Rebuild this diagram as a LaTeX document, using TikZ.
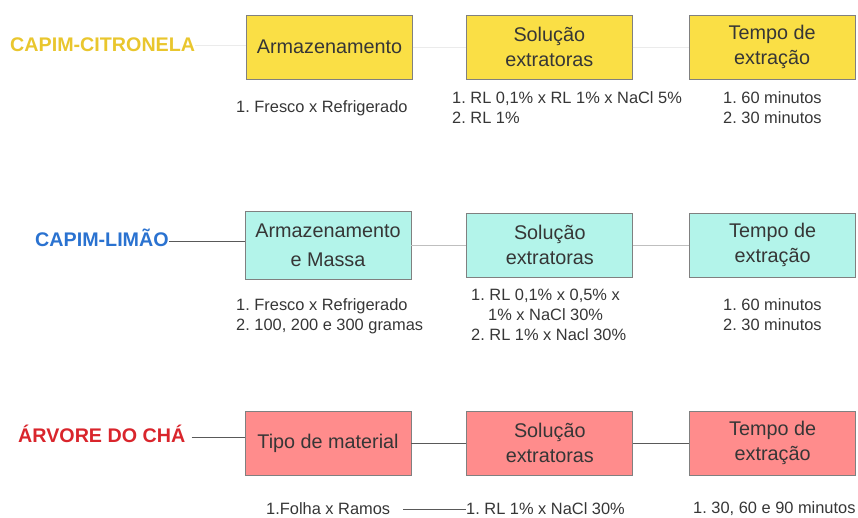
\documentclass[tikz,border=0pt]{standalone}
\usepackage{fontspec}
\setmainfont{Liberation Sans}
\usetikzlibrary{positioning}
\usepackage{xcolor}
\definecolor{citro}{HTML}{E9C62E}
\definecolor{limao}{HTML}{2A72D0}
\definecolor{cha}{HTML}{D9252C}
\definecolor{amarelo}{HTML}{FADF45}
\definecolor{agua}{HTML}{B3F4EA}
\definecolor{salmao}{HTML}{FF8C8C}
\definecolor{texto}{HTML}{363636}
\tikzstyle{etapa} = [rectangle, minimum width=166pt, minimum height=64pt, align=center, draw=black!50, line width=0.8pt, text=texto, font=\fontsize{19.8}{25}\selectfont]
\tikzstyle{especie} = [anchor=base west, inner sep=0pt, font=\bfseries\fontsize{19.7}{22}\selectfont]
\tikzstyle{lista} = [anchor=west, align=left, inner sep=0pt, text=texto, font=\fontsize{16.4}{20}\selectfont]
\tikzstyle{fraca} = [line width=0.8pt, black!8]
\tikzstyle{liga} = [line width=0.8pt, black!65]

\begin{document}
\begin{tikzpicture}[x=1pt, y=-1pt, node distance=55pt]
    \useasboundingbox (0,0) rectangle (858,518);
    % capim-citronela
    \node (cit) [especie, text=citro] at (10,52) {CAPIM-CITRONELA};
    \node (cit1) [etapa, fill=amarelo] at (329.5,47) {Armazenamento};
    \node (cit2) [etapa, fill=amarelo, right=53pt of cit1] {Solução\\extratoras};
    \node (cit3) [etapa, fill=amarelo, right=56pt of cit2] {Tempo de\\extração};
    \node (cit1l) [lista] at (236,108) {1.\ Fresco x Refrigerado};
    \node (cit2l) [lista] at (452,108) {1.\ RL 0,1\% x RL 1\% x NaCl 5\%\\2.\ RL 1\%};
    \node (cit3l) [lista] at (723,108) {1.\ 60 minutos\\2.\ 30 minutos};
    \coordinate (citc) at ([yshift=7pt]cit.base east);

    % capim-limao
    \node (lim) [especie, text=limao] at (35,247) {CAPIM-LIMÃO};
    \node (lim1) [etapa, fill=agua, minimum height=68pt] at (328,245) {Armazenamento\\[4pt]e Massa};
    \node (lim2) [etapa, fill=agua, right=55pt of lim1] {Solução\\extratoras};
    \node (lim3) [etapa, fill=agua, right=56pt of lim2] {Tempo de\\extração};
    \node (lim1l) [lista] at (236,316) {1.\ Fresco x Refrigerado\\2.\ 100, 200 e 300 gramas};
    \node (lim2l) [lista] at (471,315) {1.\ RL 0,1\% x 0,5\% x\\\hspace{17pt}1\% x NaCl 30\%\\2.\ RL 1\% x Nacl 30\%};
    \node (lim3l) [lista] at (723,315) {1.\ 60 minutos\\2.\ 30 minutos};
    \coordinate (limc) at ([yshift=6pt]lim.base east);

    % arvore do cha
    \node (arv) [especie, text=cha] at (18,442) {ÁRVORE DO CHÁ};
    \node (arv1) [etapa, fill=salmao] at (328,443) {Tipo de material};
    \node (arv2) [etapa, fill=salmao, right=55pt of arv1] {Solução\\extratoras};
    \node (arv3) [etapa, fill=salmao, right=56pt of arv2] {Tempo de\\extração};
    \node (arv1l) [lista] at (266,509) {1.Folha x Ramos};
    \node (arv2l) [lista] at (466,509) {1.\ RL 1\% x NaCl 30\%};
    \node (arv3l) [lista] at (693,509) {1.\ 30, 60 e 90 minutos};
    \coordinate (arvc) at ([yshift=5pt]arv.base east);

    \draw [fraca] (citc) -- (citc -| cit1.west);
    \draw [liga] (limc) -- (limc -| lim1.west);
    \draw [liga, shorten <=6pt] (arvc) -- (arvc -| arv1.west);
    \foreach \i/\j in {cit1/cit2, cit2/cit3} {
        \draw [fraca] (\i.east) -- (\j.west);
    }
    \foreach \i/\j in {lim1/lim2, lim2/lim3} {
        \draw [line width=0.8pt, black!25] (\i.east) -- (\j.west);
    }
    \foreach \i/\j in {arv1/arv2, arv2/arv3} {
        \draw [liga] (\i.east) -- (\j.west);
    }
    \draw [liga, shorten <=13pt] (arv1l.east) -- (arv2l.west);
\end{tikzpicture}
\end{document}
